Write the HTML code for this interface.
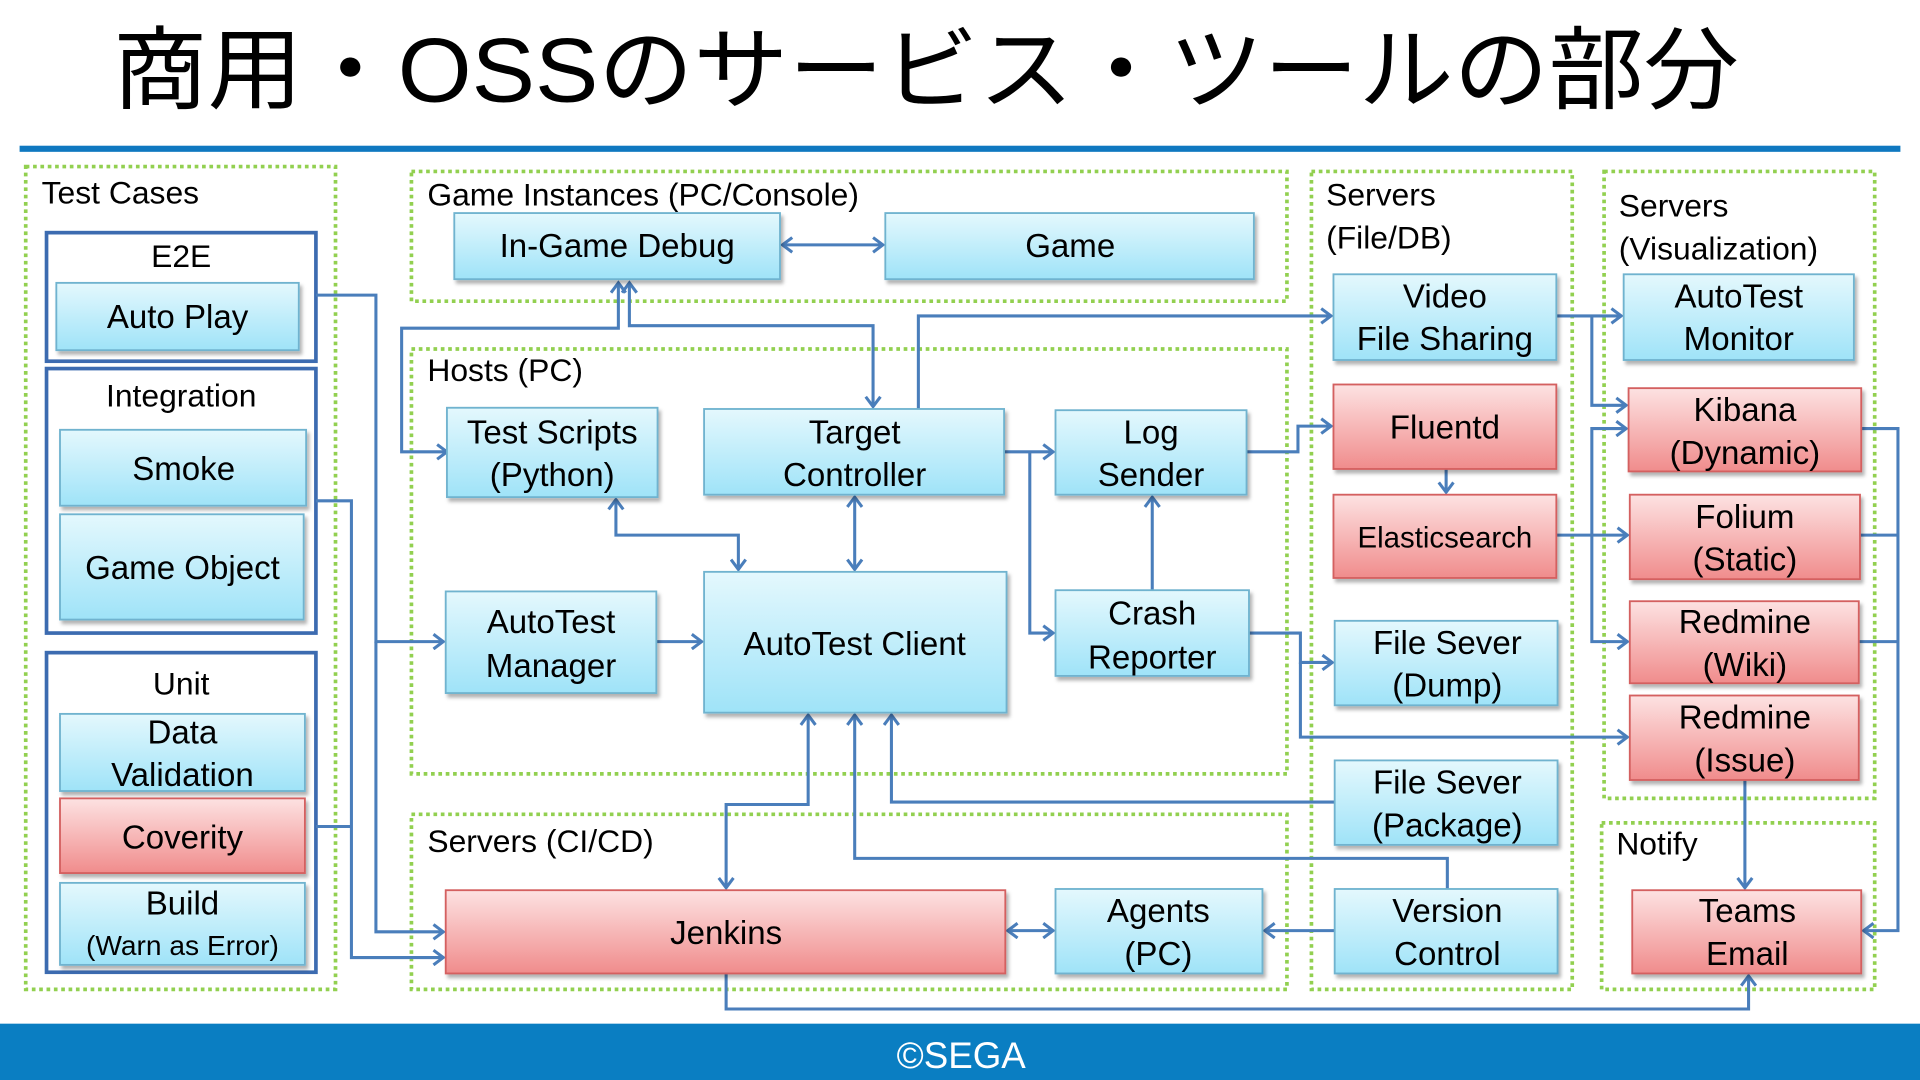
<!DOCTYPE html>
<html><head><meta charset="utf-8"><style>
html,body{margin:0;padding:0;background:#fff;}
svg{display:block;}
text{font-family:"Liberation Sans","Noto Sans CJK JP",sans-serif;fill:#000;}
</style></head><body>
<svg width="1920" height="1080" viewBox="0 0 1568 882" xmlns="http://www.w3.org/2000/svg">
<defs>
<linearGradient id="cy" x1="0" y1="0" x2="0" y2="1"><stop offset="0" stop-color="#e4f8fd"/><stop offset="1" stop-color="#9fe3f8"/></linearGradient>
<linearGradient id="rd" x1="0" y1="0" x2="0" y2="1"><stop offset="0" stop-color="#fde2e2"/><stop offset="1" stop-color="#f08c8c"/></linearGradient>
<marker id="ah" markerWidth="14" markerHeight="14" refX="10" refY="7" orient="auto-start-reverse" markerUnits="userSpaceOnUse"><path d="M2,1 L10,7 L2,13" fill="none" stroke="#4a7ebb" stroke-width="2.5"/></marker>
<filter id="sh" x="-5%" y="-5%" width="115%" height="125%"><feDropShadow dx="2" dy="3" stdDeviation="1.5" flood-color="#000" flood-opacity="0.3"/></filter>
</defs>

<text x="92" y="83" font-size="74" textLength="1328" lengthAdjust="spacingAndGlyphs">商用・OSSのサービス・ツールの部分</text>
<rect x="16" y="119" width="1536" height="5" fill="#0f78c0"/>
<rect x="0" y="836" width="1568" height="46" fill="#0a7ec2"/>
<text x="785" y="872" font-size="30" text-anchor="middle" style="fill:#fff">©SEGA</text>

<g fill="none" stroke="#92d050" stroke-width="3" stroke-dasharray="3,3">
<rect x="21" y="136" width="253" height="672"/>
<rect x="336" y="140" width="715" height="106"/>
<rect x="336" y="285" width="715" height="347"/>
<rect x="336" y="665" width="715" height="143"/>
<rect x="1071" y="140" width="213" height="668"/>
<rect x="1310" y="140" width="221" height="512"/>
<rect x="1308" y="672" width="223" height="136"/>
</g>
<g font-size="26">
<text x="34" y="166">Test Cases</text>
<text x="349" y="168">Game Instances (PC/Console)</text>
<text x="349" y="311">Hosts (PC)</text>
<text x="349" y="696">Servers (CI/CD)</text>
<text x="1083" y="168">Servers</text><text x="1083" y="203">(File/DB)</text>
<text x="1322" y="177">Servers</text><text x="1322" y="212">(Visualization)</text>
<text x="1320" y="698">Notify</text>
</g>

<g fill="#fff" stroke="#3c6bb0" stroke-width="3">
<rect x="38" y="190" width="220" height="105"/>
<rect x="38" y="301" width="220" height="216"/>
<rect x="38" y="533" width="220" height="261"/>
</g>
<g font-size="26" text-anchor="middle">
<text x="148" y="218">E2E</text>
<text x="148" y="332">Integration</text>
<text x="148" y="567">Unit</text>
</g>

<!-- connectors -->
<g fill="none" stroke="#4a7ebb" stroke-width="2.5">
<path d="M258,241 H307 V524 H362" marker-end="url(#ah)"/>
<path d="M307,524 V761 H362" marker-end="url(#ah)"/>
<path d="M258,409 H287 V782 H362" marker-end="url(#ah)"/>
<path d="M258,675 H287"/>
<path d="M365,369 H328 V268 H505 V231" marker-start="url(#ah)" marker-end="url(#ah)"/>
<path d="M514,231 V266 H713 V332" marker-start="url(#ah)" marker-end="url(#ah)"/>
<path d="M639,200 H721" marker-start="url(#ah)" marker-end="url(#ah)"/>
<path d="M536,524 H573" marker-end="url(#ah)"/>
<path d="M503,408 V437 H603 V465" marker-start="url(#ah)" marker-end="url(#ah)"/>
<path d="M698,406 V465" marker-start="url(#ah)" marker-end="url(#ah)"/>
<path d="M820,369 H860" marker-end="url(#ah)"/>
<path d="M841,369 V517 H860" marker-end="url(#ah)"/>
<path d="M750,334 V258 H1087" marker-end="url(#ah)"/>
<path d="M941,482 V406" marker-end="url(#ah)"/>
<path d="M1018,369 H1060 V348 H1087" marker-end="url(#ah)"/>
<path d="M1181,383 V402" marker-end="url(#ah)"/>
<path d="M1020,517 H1062 V541 H1088" marker-end="url(#ah)"/>
<path d="M1062,541 V602 H1329" marker-end="url(#ah)"/>
<path d="M1090,655 H728 V584" marker-end="url(#ah)"/>
<path d="M1182,726 V701 H698 V584" marker-end="url(#ah)"/>
<path d="M1090,760 H1033" marker-end="url(#ah)"/>
<path d="M823,760 H860" marker-start="url(#ah)" marker-end="url(#ah)"/>
<path d="M593,725 V657 H660 V584" marker-start="url(#ah)" marker-end="url(#ah)"/>
<path d="M593,795 V824 H1428 V797" marker-end="url(#ah)"/>
<path d="M1271,258 H1324" marker-end="url(#ah)"/>
<path d="M1300,258 V331 H1328" marker-end="url(#ah)"/>
<path d="M1271,437 H1329" marker-end="url(#ah)"/>
<path d="M1300,437 V350 H1328" marker-end="url(#ah)"/>
<path d="M1300,437 V524 H1329" marker-end="url(#ah)"/>
<path d="M1425,637 V725" marker-end="url(#ah)"/>
<path d="M1520,350 H1550 V760 H1522" marker-end="url(#ah)"/>
<path d="M1519,437 H1550"/>
<path d="M1518,524 H1550"/>
</g>

<!-- boxes -->
<g filter="url(#sh)" stroke-width="1.5">
<g fill="url(#cy)" stroke="#6fb3cf">
<rect x="46" y="231" width="198" height="55"/>
<rect x="49" y="351" width="201" height="62"/>
<rect x="49" y="420" width="199" height="86"/>
<rect x="49" y="583" width="200" height="63"/>
<rect x="49" y="721" width="200" height="67"/>
<rect x="371" y="174" width="266" height="54"/>
<rect x="723" y="174" width="301" height="54"/>
<rect x="365" y="333" width="172" height="73"/>
<rect x="575" y="334" width="245" height="70"/>
<rect x="862" y="335" width="156" height="69"/>
<rect x="364" y="483" width="172" height="83"/>
<rect x="575" y="467" width="247" height="115"/>
<rect x="862" y="482" width="158" height="70"/>
<rect x="862" y="726" width="169" height="69"/>
<rect x="1089" y="224" width="182" height="70"/>
<rect x="1090" y="507" width="182" height="69"/>
<rect x="1090" y="621" width="182" height="69"/>
<rect x="1090" y="726" width="182" height="69"/>
<rect x="1326" y="224" width="188" height="70"/>
</g>
<g fill="url(#rd)" stroke="#d46060">
<rect x="49" y="652" width="200" height="61"/>
<rect x="364" y="727" width="457" height="68"/>
<rect x="1089" y="314" width="182" height="69"/>
<rect x="1089" y="404" width="182" height="68"/>
<rect x="1330" y="317" width="190" height="68"/>
<rect x="1331" y="404" width="188" height="69"/>
<rect x="1331" y="491" width="187" height="67"/>
<rect x="1331" y="568" width="187" height="69"/>
<rect x="1333" y="727" width="187" height="68"/>
</g>
</g>

<g font-size="27" text-anchor="middle">
<text x="145" y="268">Auto Play</text>
<text x="150" y="392">Smoke</text>
<text x="149" y="473">Game Object</text>
<text x="149" y="607">Data</text><text x="149" y="642">Validation</text>
<text x="149" y="693">Coverity</text>
<text x="149" y="747">Build</text><text x="149" y="780" font-size="23">(Warn as Error)</text>
<text x="504" y="210">In-Game Debug</text>
<text x="874" y="210">Game</text>
<text x="451" y="362">Test Scripts</text><text x="451" y="397">(Python)</text>
<text x="698" y="362">Target</text><text x="698" y="397">Controller</text>
<text x="940" y="362">Log</text><text x="940" y="397">Sender</text>
<text x="450" y="517">AutoTest</text><text x="450" y="553">Manager</text>
<text x="698" y="535">AutoTest Client</text>
<text x="941" y="510">Crash</text><text x="941" y="546">Reporter</text>
<text x="593" y="771">Jenkins</text>
<text x="946" y="753">Agents</text><text x="946" y="788">(PC)</text>
<text x="1180" y="251">Video</text><text x="1180" y="286">File Sharing</text>
<text x="1180" y="358">Fluentd</text>
<text x="1180" y="447" font-size="24">Elasticsearch</text>
<text x="1182" y="534">File Sever</text><text x="1182" y="569">(Dump)</text>
<text x="1182" y="648">File Sever</text><text x="1182" y="683">(Package)</text>
<text x="1182" y="753">Version</text><text x="1182" y="788">Control</text>
<text x="1420" y="251">AutoTest</text><text x="1420" y="286">Monitor</text>
<text x="1425" y="344">Kibana</text><text x="1425" y="379">(Dynamic)</text>
<text x="1425" y="431">Folium</text><text x="1425" y="466">(Static)</text>
<text x="1425" y="517">Redmine</text><text x="1425" y="552">(Wiki)</text>
<text x="1425" y="595">Redmine</text><text x="1425" y="630">(Issue)</text>
<text x="1427" y="753">Teams</text><text x="1427" y="788">Email</text>
</g>
</svg>
</body></html>
